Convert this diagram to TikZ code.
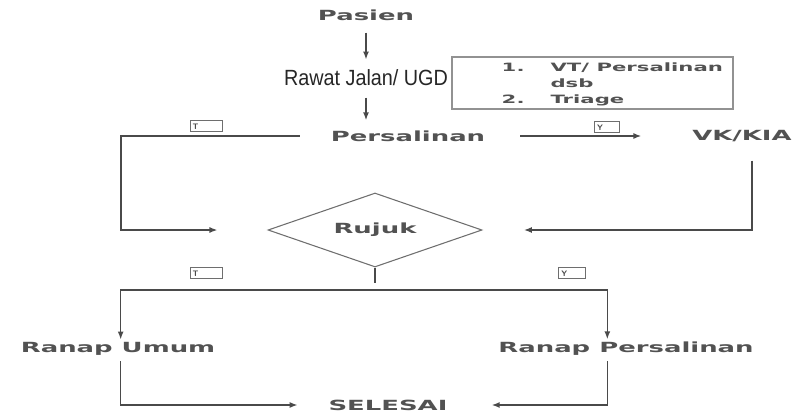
\documentclass[tikz,border=0pt]{standalone}
\usepackage{fontspec}
\usetikzlibrary{shapes.geometric,arrows.meta}
\newfontfamily\widefont[FakeStretch=1.85]{DejaVu Sans}
\newfontfamily\narrowfont[FakeStretch=0.9]{Liberation Sans}
\definecolor{ink}{HTML}{4A4A4A}
\definecolor{txt}{HTML}{525252}
\tikzset{
  word/.style={inner sep=2pt, text=txt, font=\widefont\bfseries\fontsize{10.5}{12}\selectfont},
  line/.style={draw=ink, line width=1.1pt},
  flow/.style={line, -{Latex[length=6pt,width=4.5pt]}},
  tagbox/.style={draw=ink!80, line width=0.7pt, inner xsep=2pt, inner ysep=2pt,
    text height=4.5pt, text depth=0pt, text width=#1, align=left, text=ink,
    font=\sffamily\bfseries\fontsize{6}{6}\selectfont},
  tagbox/.default=20pt
}

\begin{document}
\begin{tikzpicture}[x=0.75pt,y=0.75pt,yscale=-1]
\useasboundingbox (0,0) rectangle (795,414);

% Text Node
\node[word] (pasien) at (366,15) {Pasien};
% Text Node
\node[inner sep=2pt, text=black!85, font=\narrowfont\fontsize{16.5}{18}\selectfont] (rawat) at (366,78) {Rawat Jalan/ UGD};
% Text Node
\node[word] (persalinan) at (408,136) {Persalinan};
% Text Node
\node[word] (vkkia) at (742,136) {VK/KIA};
%Shape: Diamond
\node[word, shape=diamond, draw=ink!80, line width=0.8pt, aspect=2.9, minimum width=160.5pt, minimum height=55.5pt] (rujuk) at (375,230) {Rujuk};
% Text Node
\node[word] (ranapumum) at (118,349) {Ranap Umum};
% Text Node
\node[word] (ranappers) at (626,349) {Ranap Persalinan};
% Text Node
\node[word] (selesai) at (388,405) {SELESAI};

%Shape: Rectangle
\node[draw=ink!60, line width=0.8pt, minimum width=210.75pt, minimum height=39pt] (daftar) at (592.5,83) {};
% Text Node
\node[anchor=west, inner sep=0pt, text=txt, font=\widefont\bfseries\fontsize{8.6}{12}\selectfont] (isi) at ([xshift=37.5pt,yshift=1pt]daftar.west)
  {\begin{tabular}{@{}l@{\hspace{19.5pt}}l@{}}1. & VT/ Persalinan\\ & dsb\\ 2. & Triage\end{tabular}};

% Tags
\node[tagbox] (tagT1) at (206,126) {T};
\node[tagbox=15pt] (tagY1) at (607,127) {Y};
\node[tagbox] (tagT2) at (206,273) {T};
\node[tagbox=16pt] (tagY2) at (572,273) {Y};

\coordinate (rail) at (121,0);
\coordinate (split) at (375,283);
\coordinate (fork) at (375,290);

%Straight Lines
\draw[flow, shorten <=7pt, shorten >=5.6pt] (pasien.south) -- (rawat.north);
\draw[flow, shorten <=6.4pt, shorten >=5.5pt] (rawat.south) -- (rawat.south |- persalinan.north);
\draw[flow, shorten <=24pt, shorten >=36pt] (persalinan.east) -- (vkkia.west);
\draw[flow, shorten <=21pt, shorten >=37.5pt] (persalinan.west) -- (persalinan.west -| rail) |- (rujuk.west);
\draw[flow, shorten <=12pt, shorten >=31pt] ([xshift=7.5pt]vkkia.south) |- (rujuk.east);
\draw[line] (rujuk.south) -- (split);
\draw[flow] (fork) -| ([xshift=2pt]ranapumum.north);
\draw[flow] (fork) -| ([xshift=-14pt]ranappers.north);
\draw[flow, shorten <=2pt, shorten >=21pt] ([xshift=2pt]ranapumum.south) |- (selesai.west);
\draw[flow, shorten <=2pt, shorten >=31pt] ([xshift=-14pt]ranappers.south) |- (selesai.east);

\end{tikzpicture}
\end{document}
